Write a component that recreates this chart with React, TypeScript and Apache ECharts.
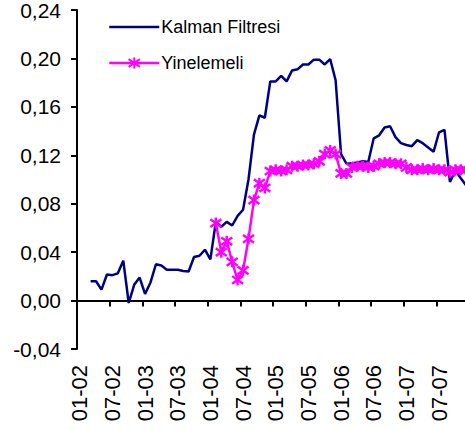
import React, { useEffect, useRef } from "react";
import * as echarts from "echarts";

const years = ["02", "03", "04", "05", "06", "07"];
const months = ["01", "02", "03", "04", "05", "06", "07", "08", "09", "10", "11", "12"];
const categories: string[] = [];
years.forEach((y) => months.forEach((m) => categories.push(m + "-" + y)));

const yTicks = { min: -0.04, max: 0.24, interval: 0.04 };

const kalman: (number | null)[] = [
  null, null, 0.016, 0.016, 0.009, 0.0215, 0.021, 0.0225, 0.033, -0.002, 0.013, 0.019,
  0.0055, 0.015, 0.030, 0.029, 0.0255, 0.0255, 0.0255, 0.0245, 0.024, 0.036, 0.037, 0.042,
  0.034, 0.065, 0.061, 0.065, 0.062, 0.070, 0.075, 0.100, 0.137, 0.153, 0.151, 0.181,
  0.181, 0.1855, 0.181, 0.190, 0.191, 0.195, 0.195, 0.199, 0.199, 0.195, 0.1995, 0.182,
  0.121, 0.113, 0.1135, 0.114, 0.115, 0.1145, 0.134, 0.1365, 0.143, 0.144, 0.135, 0.130,
  0.1285, 0.1275, 0.1325, 0.130, 0.1265, 0.123, 0.139, 0.141, 0.098, 0.1075, 0.101, 0.095,
];

const yinelemeli: (number | null)[] = [
  null, null, null, null, null, null, null, null, null, null, null, null,
  null, null, null, null, null, null, null, null, null, null, null, null,
  null, 0.064, 0.040, 0.049, 0.032, 0.017, 0.025, 0.051, 0.083, 0.097, 0.093, 0.107,
  0.108, 0.107, 0.108, 0.111, 0.111, 0.112, 0.112, 0.113, 0.115, 0.121, 0.124, 0.121,
  0.105, 0.105, 0.110, 0.111, 0.111, 0.110, 0.111, 0.113, 0.114, 0.114, 0.113, 0.113,
  0.110, 0.108, 0.108, 0.109, 0.108, 0.109, 0.108, 0.108, 0.106, 0.108, 0.108, 0.108,
];

const seriesNames = ["Kalman Filtresi", "Yinelemeli"];

const starPath = "path://M5,0 L5,10 M0.7,1.5 L9.3,8.5 M0.7,8.5 L9.3,1.5";

export default function App() {
  const ref = useRef<HTMLDivElement>(null);
  useEffect(() => {
    document.body.style.margin = "0";
    if (!ref.current) return;
    const chart = echarts.init(ref.current, null, { renderer: "svg" });
    const font = "Liberation Sans, Arial, sans-serif";
    chart.setOption({
      animation: false,
      backgroundColor: "#ffffff",
      textStyle: { fontFamily: font },
      grid: { left: 77, top: 10, width: 392, height: 339, containLabel: false, outerBoundsMode: "none" },
      legend: {
        orient: "vertical",
        left: 103,
        top: 13,
        itemWidth: 50,
        itemHeight: 14,
        itemGap: 18,
        lineStyle: { width: 2.5 },
        textStyle: { fontFamily: font, fontSize: 18, color: "#000", padding: [0, 0, 0, -3] },
        data: [
          { name: seriesNames[0], itemStyle: { opacity: 0 } },
          { name: seriesNames[1] },
        ],
      },
      xAxis: {
        type: "category",
        data: categories,
        boundaryGap: true,
        axisLine: { show: true, onZero: true, lineStyle: { color: "#000", width: 2 } },
        axisTick: { show: true, interval: 5, length: 6, lineStyle: { color: "#000", width: 2 } },
        axisLabel: {
          interval: 5,
          rotate: 90,
          margin: 16,
          fontSize: 22,
          color: "#000",
          fontFamily: font,
        },
        splitLine: { show: false },
      },
      yAxis: {
        type: "value",
        min: yTicks.min,
        max: yTicks.max,
        interval: yTicks.interval,
        axisLine: { show: true, lineStyle: { color: "#000", width: 2 } },
        axisTick: { show: true, length: 6, lineStyle: { color: "#000", width: 2 } },
        splitLine: { show: false },
        axisLabel: {
          margin: 16,
          fontSize: 21,
          color: "#000",
          fontFamily: font,
          formatter: (v: number) => v.toFixed(2).replace(".", ","),
        },
      },
      series: [
        {
          name: seriesNames[0],
          type: "line",
          data: kalman,
          symbol: "none",
          connectNulls: false,
          lineStyle: { color: "#000080", width: 2.5 },
          itemStyle: { color: "#000080" },
        },
        {
          name: seriesNames[1],
          type: "line",
          data: yinelemeli,
          symbol: starPath,
          symbolSize: 11,
          showSymbol: true,
          showAllSymbol: true,
          lineStyle: { color: "#ff00ff", width: 2.5 },
          itemStyle: { color: "transparent", borderColor: "#ff00ff", borderWidth: 2.4 },
        },
      ],
    });
    return () => chart.dispose();
  }, []);
  return <div ref={ref} style={{ width: 465, height: 430 }} />;
}
